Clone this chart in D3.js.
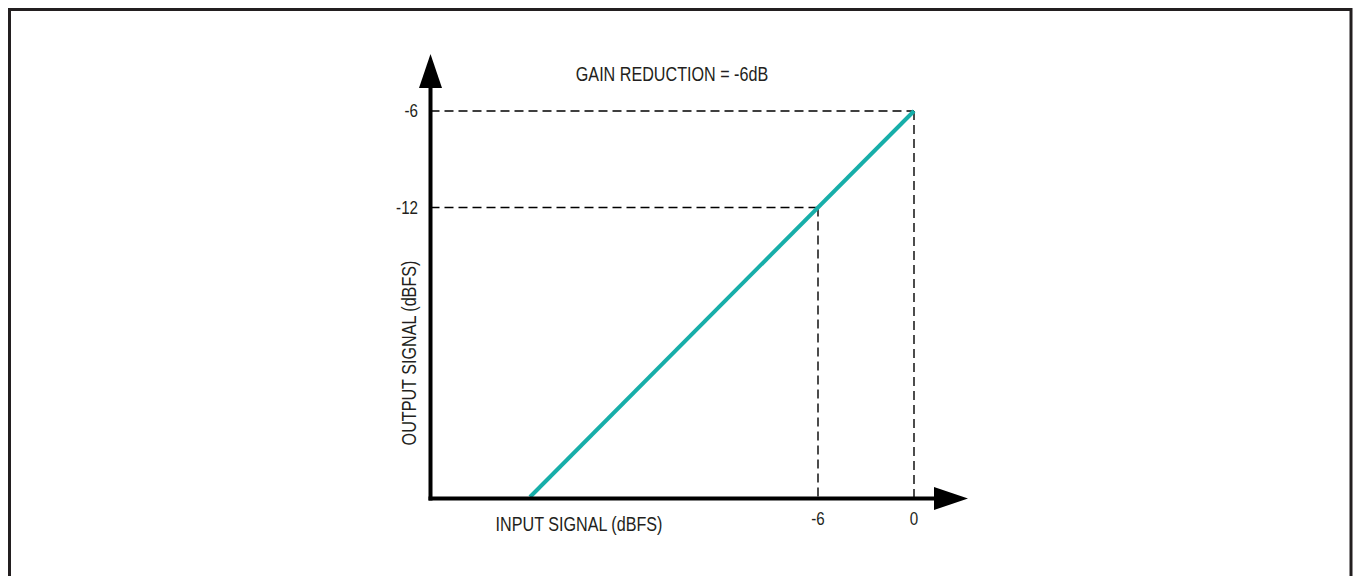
<!DOCTYPE html>
<html>
<head>
<meta charset="utf-8">
<script src="https://cdn.jsdelivr.net/npm/d3@7"></script>
<style>
  html, body { margin: 0; padding: 0; background: #fff; }
  svg { display: block; }
  text { font-family: "Liberation Sans", Arial, sans-serif; fill: #231f20; }
</style>
</head>
<body>
<svg id="chart" width="1354" height="576"></svg>
<script>
// ---- data ----
const lineInput = [-24, 0];          // input signal (dBFS)
const lineOutput = [-30, -6];        // output signal (dBFS)
const xTickValues = [-6, 0];
const xTickLabels = ["-6", "0"];
const yTickValues = [-6, -12];
const yTickLabels = ["-6", "-12"];
const guidePoints = [[0, -6], [-6, -12]];   // dashed guide points (input, output)
const titleText = "GAIN REDUCTION = -6dB";
const xTitle = "INPUT SIGNAL (dBFS)";
const yTitle = "OUTPUT SIGNAL (dBFS)";

// ---- layout ----
const svg = d3.select("#chart");
const ink = "#231f20";
const teal = "#17aea9";
const narrow = 0.82;   // horizontal condensing to mimic a narrow face

const x = d3.scaleLinear().domain([-6, 0]).range([818, 914]);
const y = d3.scaleLinear().domain([-12, -6]).range([207.5, 111]);
const axisX0 = 430.5;   // y-axis position
const axisY0 = 498.5;   // x-axis position

function label(tx, ty, rot, anchor, size, str, dy) {
  const g = svg.append("g").attr("transform", `translate(${tx},${ty}) rotate(${rot}) scale(${narrow},1)`);
  g.append("text").attr("text-anchor", anchor).attr("font-size", size)
    .attr("dy", dy || 0).text(str);
}

// frame
svg.append("rect").attr("x", 9.5).attr("y", 9.5).attr("width", 1341.5).attr("height", 620)
  .attr("fill", "none").attr("stroke", ink).attr("stroke-width", 3);

// dashed guides
guidePoints.forEach(([gx, gy]) => {
  svg.append("line").attr("x1", axisX0).attr("x2", x(gx)).attr("y1", y(gy)).attr("y2", y(gy))
    .attr("stroke", "#000").attr("stroke-width", 1.4).attr("stroke-dasharray", "9,5");
  svg.append("line").attr("x1", x(gx)).attr("x2", x(gx)).attr("y1", y(gy)).attr("y2", axisY0)
    .attr("stroke", "#000").attr("stroke-width", 1.4).attr("stroke-dasharray", "9,5");
});

// transfer line
const pts = lineInput.map((v, i) => [v, lineOutput[i]]);
svg.append("path").datum(pts)
  .attr("d", d3.line().x(d => x(d[0])).y(d => y(d[1])))
  .attr("fill", "none").attr("stroke", teal).attr("stroke-width", 4);

// axes lines
svg.append("line").attr("x1", axisX0).attr("x2", axisX0).attr("y1", axisY0 + 2).attr("y2", 86)
  .attr("stroke", "#000").attr("stroke-width", 4);
svg.append("line").attr("x1", axisX0 - 2).attr("x2", 936).attr("y1", axisY0).attr("y2", axisY0)
  .attr("stroke", "#000").attr("stroke-width", 4);
// arrowheads
svg.append("path").attr("d", `M${axisX0},54 L${axisX0 + 11.5},88 L${axisX0 - 11.5},88 Z`).attr("fill", "#000");
svg.append("path").attr("d", `M968,${axisY0} L934,${axisY0 - 11.5} L934,${axisY0 + 11.5} Z`).attr("fill", "#000");

// tick labels
xTickValues.forEach((v, i) => label(x(v), 525, 0, "middle", 18.5, xTickLabels[i]));
yTickValues.forEach((v, i) => label(418, y(v), 0, "end", 18.5, yTickLabels[i], "0.35em"));

// titles
label(672, 81, 0, "middle", 19.7, titleText);
label(579, 531, 0, "middle", 19.7, xTitle);
label(416, 353, -90, "middle", 19.7, yTitle);
</script>
</body>
</html>
